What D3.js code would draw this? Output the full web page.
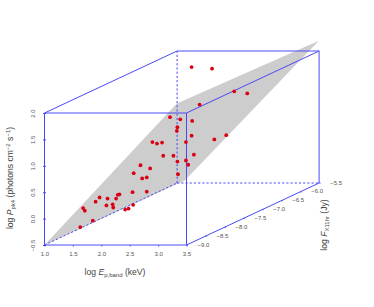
<!DOCTYPE html>
<html>
<head>
<meta charset="utf-8">
<script src="https://cdn.jsdelivr.net/npm/d3@7"></script>
<style>
body { margin: 0; background: #fff; }
text { font-family: "Liberation Sans", sans-serif; fill: #444; }
</style>
</head>
<body>
<div id="chart"></div>
<script>
// axis ticks
var epTicks = [1.0, 1.5, 2.0, 2.5, 3.0, 3.5];
var pkTicks = [-0.5, 0.0, 0.5, 1.0, 1.5, 2.0];
var fxTicks = [-9.0, -8.5, -8.0, -7.5, -7.0, -6.5, -6.0, -5.5];

// points read off the picture against the front face axes (depth is not recoverable)
var pointEp = [1.63, 1.68, 1.71, 1.85, 1.90, 1.97, 2.09, 2.11, 2.20, 2.21, 2.26, 2.29, 2.32, 2.42, 2.48, 2.55,
    2.56, 2.57, 2.69, 2.72, 2.80, 2.80, 2.86, 3.09, 3.27, 3.34, 3.35, 3.49, 3.53, 3.21, 3.39, 3.34, 3.33,
    2.90, 2.98, 3.07, 3.49, 3.59, 3.95, 4.34, 4.57, 3.73, 3.60, 3.59, 3.99, 4.20, 3.63];
var pointPk = [-0.16, 0.20, 0.15, -0.04, 0.32, 0.40, 0.25, 0.38, 0.27, 0.21, 0.38, 0.45, 0.46, 0.17, 0.19, 0.50,
    0.26, 0.86, 1.01, 0.76, 0.78, 0.51, 0.95, 1.19, 1.19, 1.08, 0.84, 1.10, 1.02, 1.92, 1.88, 1.73, 1.66,
    1.45, 1.42, 1.44, 1.45, 2.87, 2.84, 2.41, 2.37, 2.16, 1.85, 1.57, 1.50, 1.58, 1.21];

// fitted plane corners, same front face reading
var planeEp = [1.0, 3.47, 5.83, 3.33];
var planePk = [-0.5, 0.72, 3.37, 2.18];

var width = 374, height = 307;
var blue = "#4a4af5";

var svg = d3.select("#chart").append("svg")
    .attr("width", width)
    .attr("height", height)
    .style("display", "block");

var x = d3.scaleLinear().domain([1.0, 3.5]).range([44.5, 186.5]);
var y = d3.scaleLinear().domain([-0.5, 2.0]).range([245, 113]);
var depthX = d3.scaleLinear().domain([-9.0, -5.5]).range([0, 132.6]);
var depthY = d3.scaleLinear().domain([-9.0, -5.5]).range([0, -62]);

function px(e, f) { return x(e) + depthX(f); }
function py(p, f) { return y(p) + depthY(f); }

// plane
svg.append("polygon")
    .attr("points", planeEp.map(function(d, i) { return [x(d), y(planePk[i])].join(","); }).join(" "))
    .attr("fill", "#cdcdcd");

// box edges, each one is [ep, fx, pk] to [ep, fx, pk]
var solidEdges = [
    [[1.0, -9, -0.5], [3.5, -9, -0.5]],
    [[1.0, -9, 2.0], [3.5, -9, 2.0]],
    [[1.0, -9, -0.5], [1.0, -9, 2.0]],
    [[3.5, -9, -0.5], [3.5, -9, 2.0]],
    [[1.0, -9, 2.0], [1.0, -5.5, 2.0]],
    [[3.5, -9, 2.0], [3.5, -5.5, 2.0]],
    [[3.5, -9, -0.5], [3.5, -5.5, -0.5]],
    [[1.0, -5.5, 2.0], [3.5, -5.5, 2.0]],
    [[3.5, -5.5, -0.5], [3.5, -5.5, 2.0]]
];
var dashedEdges = [
    [[1.0, -9, -0.5], [1.0, -5.5, -0.5]],
    [[1.0, -5.5, -0.5], [1.0, -5.5, 2.0]],
    [[1.0, -5.5, -0.5], [3.5, -5.5, -0.5]]
];

function drawEdges(edges, dash) {
    svg.append("g").selectAll("line")
        .data(edges)
        .enter().append("line")
        .attr("x1", function(d) { return px(d[0][0], d[0][1]); })
        .attr("y1", function(d) { return py(d[0][2], d[0][1]); })
        .attr("x2", function(d) { return px(d[1][0], d[1][1]); })
        .attr("y2", function(d) { return py(d[1][2], d[1][1]); })
        .attr("stroke", blue)
        .attr("stroke-width", 1)
        .attr("stroke-dasharray", dash);
}
drawEdges(dashedEdges, "2.2,2");
drawEdges(solidEdges, null);

// axes
var xAxis = svg.append("g")
    .attr("transform", "translate(0," + y(-0.5) + ")")
    .call(d3.axisBottom(x).tickValues(epTicks).tickSize(1.5).tickFormat(d3.format(".1f")));
var yAxis = svg.append("g")
    .attr("transform", "translate(" + x(1.0) + ",0)")
    .call(d3.axisLeft(y).tickValues(pkTicks).tickSize(1.5).tickFormat(d3.format(".1f")));

xAxis.select(".domain").remove();
yAxis.select(".domain").remove();
xAxis.selectAll("line").attr("stroke", blue);
yAxis.selectAll("line").attr("stroke", blue).attr("x2", 1.5).attr("x1", -1.5);
xAxis.selectAll("text")
    .attr("y", 6.5)
    .attr("dy", "0.71em")
    .style("font-family", "Liberation Sans")
    .style("font-size", "6px")
    .style("fill", "#555");
yAxis.selectAll("text")
    .attr("x", 0)
    .attr("dy", 0)
    .attr("text-anchor", "middle")
    .style("font-family", "Liberation Sans")
    .style("font-size", "6px")
    .style("fill", "#555")
    .attr("transform", "translate(-9.5,0) rotate(-90)");

// depth axis labels sit beside the lower right edge
svg.append("g").selectAll("text")
    .data(fxTicks)
    .enter().append("text")
    .attr("x", function(d) { return px(3.5, d) + 17; })
    .attr("y", function(d) { return py(-0.5, d) + 1.5; })
    .attr("text-anchor", "middle")
    .style("font-size", "6px")
    .style("fill", "#555")
    .text(function(d) { return d3.format(".1f")(d); });
svg.append("g").selectAll("line")
    .data(fxTicks)
    .enter().append("line")
    .attr("x1", function(d) { return px(3.5, d); })
    .attr("y1", function(d) { return py(-0.5, d); })
    .attr("x2", function(d) { return px(3.5, d) + 1.5; })
    .attr("y2", function(d) { return py(-0.5, d); })
    .attr("stroke", blue);

// points
svg.append("g").selectAll("circle")
    .data(pointEp)
    .enter().append("circle")
    .attr("cx", function(d) { return x(d); })
    .attr("cy", function(d, i) { return y(pointPk[i]); })
    .attr("r", 1.9)
    .attr("fill", "#d90012");

// axis titles
function addTitle(tx, ty, rot, parts) {
    var t = svg.append("text")
        .attr("transform", "translate(" + tx + "," + ty + ") rotate(" + rot + ")")
        .attr("text-anchor", "middle")
        .style("font-size", "8.6px");
    parts.forEach(function(p) {
        var s = t.append("tspan").text(p.text);
        if (p.italic) s.style("font-style", "italic");
        if (p.shift) s.attr("dy", p.shift).style("font-size", "6px");
        if (p.back) s.attr("dy", p.back);
    });
}

addTitle(115, 275, 0, [
    { text: "log " }, { text: "E", italic: true },
    { text: "p,band", shift: 1.8 }, { text: " (keV)", back: -1.8 }
]);
addTitle(13, 178, -90, [
    { text: "log " }, { text: "P", italic: true },
    { text: "pk4", shift: 1.8 }, { text: " (photons cm", back: -1.8 },
    { text: "\u22122", shift: -3 }, { text: " s", back: 3 },
    { text: "\u22121", shift: -3 }, { text: ")", back: 3 }
]);
addTitle(327, 225, -90, [
    { text: "log " }, { text: "F", italic: true },
    { text: "X11hr", shift: 1.8 }, { text: " (Jy)", back: -1.8 }
]);
</script>
</body>
</html>
